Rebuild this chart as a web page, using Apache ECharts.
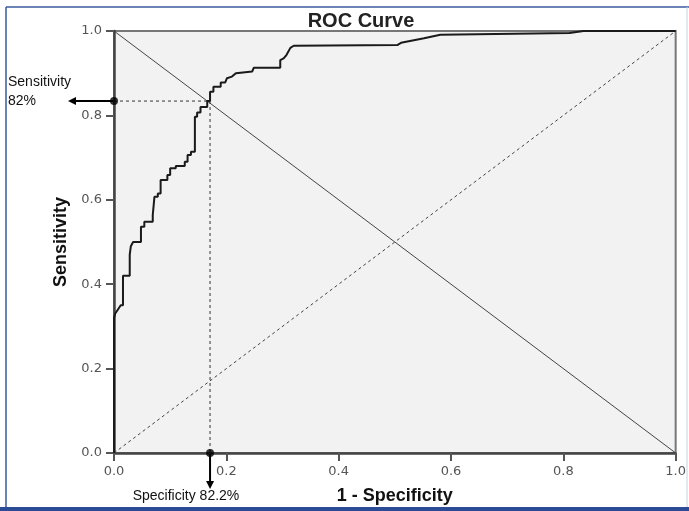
<!DOCTYPE html>
<html>
<head>
<meta charset="utf-8">
<script src="https://cdn.jsdelivr.net/npm/echarts@6/dist/echarts.min.js"></script>
<style>
  html, body { margin: 0; padding: 0; background: #fff; }
  #chart { width: 689px; height: 511px; }
</style>
</head>
<body>
<div id="chart"></div>
<script>
// ROC curve corners (1 - specificity, sensitivity)
const fpr = [0, 0, 0.002, 0.012, 0.016, 0.016, 0.028, 0.028, 0.030, 0.034, 0.048, 0.048, 0.054, 0.054,
  0.069, 0.069, 0.072, 0.072, 0.078, 0.078, 0.083, 0.083, 0.095, 0.095, 0.100, 0.100, 0.110, 0.110,
  0.126, 0.126, 0.131, 0.131, 0.137, 0.137, 0.144, 0.144, 0.148, 0.148, 0.154, 0.154, 0.166, 0.166,
  0.171, 0.171, 0.177, 0.177, 0.190, 0.190, 0.198, 0.198, 0.201, 0.210, 0.217, 0.246, 0.249, 0.296,
  0.296, 0.302, 0.307, 0.314, 0.320, 0.505, 0.511, 0.552, 0.581, 0.811, 0.836, 1];
const tpr = [0, 0.32, 0.33, 0.35, 0.35, 0.42, 0.42, 0.47, 0.49, 0.50, 0.50, 0.536, 0.536, 0.548,
  0.548, 0.564, 0.564, 0.607, 0.607, 0.615, 0.615, 0.647, 0.647, 0.659, 0.659, 0.675, 0.675, 0.68,
  0.68, 0.69, 0.69, 0.706, 0.706, 0.714, 0.714, 0.797, 0.797, 0.807, 0.807, 0.82, 0.82, 0.834,
  0.834, 0.856, 0.856, 0.868, 0.868, 0.878, 0.878, 0.88, 0.888, 0.892, 0.90, 0.904, 0.913, 0.913,
  0.931, 0.935, 0.943, 0.96, 0.965, 0.967, 0.972, 0.983, 0.991, 0.995, 1.0, 1.0];

const ticks = [0, 0.2, 0.4, 0.6, 0.8, 1.0];
const cutPoint = [0.171, 0.834];   // chosen cut-off on the curve
const sensLabel = ['Sensitivity', '82%'];
const specLabel = 'Specificity 82.2%';

const chart = echarts.init(document.getElementById('chart'));

const axisCommon = {
  type: 'value',
  min: 0,
  max: 1,
  interval: 0.2,
  splitLine: { show: false },
  axisLine: { show: true, onZero: false, lineStyle: { color: '#444', width: 2.5 } },
  axisTick: { show: true, length: 8, lineStyle: { color: '#555', width: 2 } },
  axisLabel: {
    color: '#555',
    fontFamily: 'DejaVu Sans',
    fontSize: 13,
    formatter: v => v.toFixed(1)
  },
  nameTextStyle: { fontFamily: 'Liberation Sans', fontWeight: 'bold', fontSize: 18, color: '#111' }
};

chart.setOption({
  animation: false,
  title: {
    text: 'ROC Curve',
    left: 356,
    top: 6,
    textAlign: 'center',
    textStyle: { fontFamily: 'Liberation Sans', fontWeight: 'bold', fontSize: 20, color: '#222' }
  },
  grid: {
    left: 114, right: 9, top: 31, bottom: 58,
    show: true,
    backgroundColor: '#f2f2f2',
    borderColor: '#777',
    borderWidth: 2
  },
  xAxis: Object.assign({}, axisCommon, {
    name: '1 - Specificity',
    nameLocation: 'middle',
    nameGap: 34,
    axisLabel: Object.assign({}, axisCommon.axisLabel, { margin: 12 })
  }),
  yAxis: Object.assign({}, axisCommon, {
    name: 'Sensitivity',
    nameLocation: 'middle',
    nameGap: 42,
    axisLabel: Object.assign({}, axisCommon.axisLabel, { margin: 12 })
  }),
  series: [
    {
      type: 'line',
      data: [[0, 1], [1, 0]],
      symbol: 'none',
      lineStyle: { color: '#444', width: 1 },
      silent: true
    },
    {
      type: 'line',
      data: [[0, 0], [1, 1]],
      symbol: 'none',
      lineStyle: { color: '#444', width: 1, type: [3, 3] },
      silent: true
    },
    {
      type: 'line',
      data: [[0, cutPoint[1]], cutPoint, [cutPoint[0], 0]],
      symbol: 'none',
      lineStyle: { color: '#333', width: 1, type: [3, 3] },
      silent: true
    },
    {
      type: 'line',
      data: fpr.map((x, i) => [x, tpr[i]]),
      symbol: 'none',
      lineStyle: { color: '#1a1a1a', width: 2 },
      z: 5
    },
    {
      type: 'scatter',
      data: [[0, cutPoint[1]], [cutPoint[0], 0]],
      symbolSize: 8,
      itemStyle: { color: '#000' },
      z: 6
    }
  ]
});

// arrows and notes outside the plot area, anchored to the cut-off point
const pSens = chart.convertToPixel({ gridIndex: 0 }, [0, cutPoint[1]]);
const pSpec = chart.convertToPixel({ gridIndex: 0 }, [cutPoint[0], 0]);

chart.setOption({
  graphic: [
    // frame of the figure
    { type: 'line', shape: { x1: 6, y1: 7, x2: 689, y2: 7 }, style: { stroke: '#3b5aa0', lineWidth: 1.5 } },
    { type: 'line', shape: { x1: 6, y1: 7, x2: 6, y2: 511 }, style: { stroke: '#3b5aa0', lineWidth: 1.5 } },
    { type: 'line', shape: { x1: 687, y1: 7, x2: 687, y2: 511 }, style: { stroke: '#c8d0e0', lineWidth: 1 } },
    { type: 'rect', shape: { x: 0, y: 507, width: 689, height: 4 }, style: { fill: '#2c4b96' } },
    // sensitivity arrow
    { type: 'line', shape: { x1: pSens[0], y1: pSens[1], x2: pSens[0] - 40, y2: pSens[1] },
      style: { stroke: '#000', lineWidth: 2 } },
    { type: 'polygon', shape: { points: [[pSens[0] - 46, pSens[1]], [pSens[0] - 38, pSens[1] - 4], [pSens[0] - 38, pSens[1] + 4]] },
      style: { fill: '#000' } },
    { type: 'text', x: 8, y: 82, style: { text: sensLabel[0], fill: '#111', font: '14px "Liberation Sans"', verticalAlign: 'middle' } },
    { type: 'text', x: 8, y: 101, style: { text: sensLabel[1], fill: '#111', font: '14px "Liberation Sans"', verticalAlign: 'middle' } },
    // specificity arrow
    { type: 'line', shape: { x1: pSpec[0], y1: pSpec[1], x2: pSpec[0], y2: pSpec[1] + 30 },
      style: { stroke: '#000', lineWidth: 2 } },
    { type: 'polygon', shape: { points: [[pSpec[0], pSpec[1] + 36], [pSpec[0] - 4, pSpec[1] + 28], [pSpec[0] + 4, pSpec[1] + 28]] },
      style: { fill: '#000' } },
    { type: 'text', x: 186, y: 496, style: { text: specLabel, fill: '#111', font: '14px "Liberation Sans"', align: 'center', verticalAlign: 'middle' } }
  ]
});
</script>
</body>
</html>
